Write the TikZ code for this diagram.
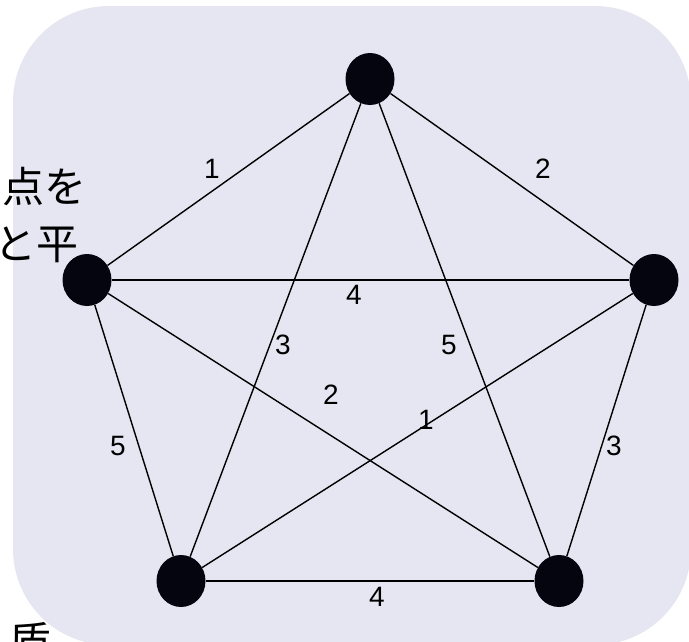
\documentclass[tikz,border=0pt]{standalone}
\usepackage{fontspec}
\setmainfont{Liberation Sans}
\newfontfamily\cjk{Noto Sans CJK JP}
\usetikzlibrary{shapes.geometric}
\definecolor{bgl}{RGB}{230,230,242}
\definecolor{dotc}{RGB}{5,5,15}
\begin{document}
\begin{tikzpicture}[x=1pt,y=-1pt,
 vtx/.style={ellipse,fill=dotc,minimum width=49pt,minimum height=52pt,inner sep=0pt},
 edge/.style={line width=1.4pt,draw=black},
 lbl/.style={font=\fontsize{28}{30}\selectfont,inner sep=0pt,anchor=center},
 frag/.style={font=\cjk\fontsize{42}{52}\selectfont,inner sep=0pt}]
\useasboundingbox (0,0) rectangle (689,641);
\clip (0,0) rectangle (689,641);
\fill[bgl,rounded corners=96pt] (13,6) rectangle (691,645);
% vertices
\node[vtx] (T) at (370,79) {};
\node[vtx] (L) at (87,280) {};
\node[vtx] (R) at (654,280) {};
\node[vtx] (BL) at (181,581) {};
\node[vtx] (BR) at (559,581) {};
% edges
\draw[edge] (L) -- (T);
\draw[edge] (T) -- (R);
\draw[edge] (L) -- (R);
\draw[edge] (T) -- (BL);
\draw[edge] (T) -- (BR);
\draw[edge] (L) -- (BR);
\draw[edge] (R) -- (BL);
\draw[edge] (L) -- (BL);
\draw[edge] (R) -- (BR);
\draw[edge] (BL) -- (BR);
% weights
\node[lbl] (w1) at (212,169) {1};
\node[lbl] (w2) at (543,169) {2};
\node[lbl] (w3) at (354,295) {4};
\node[lbl] (w4) at (283,345) {3};
\node[lbl] (w5) at (449,345) {5};
\node[lbl] (w6) at (331,395) {2};
\node[lbl] (w7) at (426,420) {1};
\node[lbl] (w8) at (118,446) {5};
\node[lbl] (w9) at (614,446) {3};
\node[lbl] (w10) at (377,597) {4};
% text fragments
\node[frag,anchor=base east] (f1) at (87,202) {点を};
\node[frag,anchor=base east] (f2) at (79,259) {と平};
\node[frag,anchor=base west] (f3) at (9,657) {质};
\end{tikzpicture}
\end{document}
